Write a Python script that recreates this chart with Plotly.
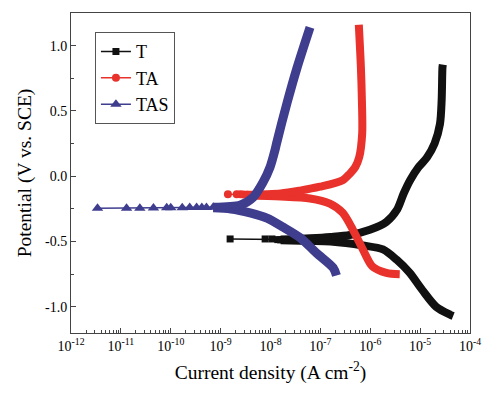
import plotly.graph_objects as go

# ---------------- data (current density in A cm^-2, potential in V vs SCE) -------------
# T (black squares)
t_cat_i = [4.6e-5, 4.0e-5, 2.1e-5, 1.1e-5, 6.2e-6, 3.4e-6, 1.8e-6, 7.1e-7, 1.6e-7, 6.3e-8, 1.6e-8]
t_cat_E = [-1.07, -1.06, -1.00, -0.87, -0.74, -0.64, -0.56, -0.53, -0.50, -0.495, -0.49]
t_an_i = [1.6e-8, 6.3e-8, 1.6e-7, 3.9e-7, 9.8e-7, 2.1e-6, 3.4e-6, 4.7e-6, 6.3e-6, 9.3e-6,
          1.38e-5, 1.95e-5, 2.5e-5, 2.7e-5, 2.8e-5, 2.85e-5]
t_an_E = [-0.485, -0.475, -0.465, -0.45, -0.41, -0.35, -0.26, -0.13, -0.03, 0.07,
          0.145, 0.25, 0.40, 0.58, 0.83, 0.855]
t_sp_i = [1.55e-9, 7.8e-9, 1.07e-8, 1.4e-8, 1.6e-8]
t_sp_E = [-0.48, -0.48, -0.48, -0.485, -0.487]

# TA (red circles)
ta_cat_i = [3.9e-6, 2.1e-6, 1.1e-6, 7.1e-7, 4.5e-7, 2.8e-7, 1.55e-7, 6.2e-8, 1.6e-8, 3.2e-9]
ta_cat_E = [-0.75, -0.74, -0.69, -0.56, -0.41, -0.28, -0.21, -0.17, -0.155, -0.148]
ta_an_i = [3.2e-9, 1.6e-8, 3.9e-8, 9.8e-8, 2.8e-7, 3.9e-7, 5.0e-7, 6.0e-7, 6.9e-7, 6.8e-7, 6.5e-7, 5.9e-7]
ta_an_E = [-0.142, -0.132, -0.11, -0.08, -0.03, 0.02, 0.07, 0.145, 0.33, 0.58, 0.83, 1.16]
ta_sp_i = [1.4e-9, 2.1e-9, 2.5e-9, 2.9e-9, 3.4e-9]
ta_sp_E = [-0.138, -0.138, -0.138, -0.14, -0.142]

# TAS (blue triangles)
tas_cat_i = [2.1e-7, 1.8e-7, 8.5e-8, 3.9e-8, 1.8e-8, 8.5e-9, 3.9e-9, 1.6e-9, 7.1e-10]
tas_cat_E = [-0.76, -0.70, -0.59, -0.47, -0.39, -0.32, -0.28, -0.25, -0.242]
tas_an_i = [7.1e-10, 2.5e-9, 4.5e-9, 7.0e-9, 9.8e-9, 1.23e-8, 1.32e-8, 2.14e-8, 3.4e-8, 6.2e-8]
tas_an_E = [-0.238, -0.22, -0.16, -0.05, 0.07, 0.20, 0.25, 0.56, 0.83, 1.14]
tas_sp_i = [3.4e-12, 1.3e-11, 2.4e-11, 4.5e-11, 8.3e-11, 1.0e-10, 1.7e-10, 2.4e-10,
            3.3e-10, 4.2e-10, 5.2e-10, 7.1e-10]
tas_sp_E = [-0.245, -0.244, -0.244, -0.243, -0.242, -0.242, -0.241, -0.240,
            -0.240, -0.239, -0.239, -0.238]

x_tickvals = [1e-12, 1e-11, 1e-10, 1e-9, 1e-8, 1e-7, 1e-6, 1e-5, 1e-4]
x_ticktext = ["10<sup>-12</sup>", "10<sup>-11</sup>", "10<sup>-10</sup>", "10<sup>-9</sup>",
              "10<sup>-8</sup>", "10<sup>-7</sup>", "10<sup>-6</sup>", "10<sup>-5</sup>",
              "10<sup>-4</sup>"]
y_tickvals = [-1.0, -0.5, 0.0, 0.5, 1.0]
y_ticktext = ["-1.0", "-0.5", "0.0", "0.5", "1.0"]

series = [
    ("T", "#111111", "square", 7, 8, (t_cat_i, t_cat_E), (t_an_i, t_an_E), (t_sp_i, t_sp_E)),
    ("TA", "#e8322b", "circle", 8, 8, (ta_cat_i, ta_cat_E), (ta_an_i, ta_an_E), (ta_sp_i, ta_sp_E)),
    ("TAS", "#3f3d8e", "triangle-up", 10, 9, (tas_cat_i, tas_cat_E), (tas_an_i, tas_an_E), (tas_sp_i, tas_sp_E)),
]

fig = go.Figure()
for name, col, sym, msize, lw, cat, an, sp in series:
    for xs, ys in (cat, an):
        fig.add_trace(go.Scatter(x=xs, y=ys, mode="lines", showlegend=False,
                                 line=dict(color=col, width=lw, shape="spline", smoothing=0.8),
                                 hoverinfo="skip"))
    fig.add_trace(go.Scatter(x=sp[0], y=sp[1], mode="lines+markers", name=name,
                             line=dict(color=col, width=1.5),
                             marker=dict(symbol=sym, size=msize, color=col)))

font_family = "'Liberation Serif', 'Times New Roman', Times, serif"
fig.update_layout(
    width=482, height=385,
    margin=dict(l=63, r=20, t=5, b=60),
    paper_bgcolor="white", plot_bgcolor="white",
    font=dict(family=font_family, color="black", size=14),
    legend=dict(x=0.06, y=0.94, xanchor="left", yanchor="top",
                bordercolor="#555555", borderwidth=1, bgcolor="white",
                font=dict(family=font_family, size=18, color="black"),
                tracegroupgap=0),
    xaxis=dict(type="log", range=[-12, -4], tickvals=x_tickvals, ticktext=x_ticktext,
               ticks="inside", ticklen=5, tickcolor="#444", showline=True, linecolor="#444",
               linewidth=1, mirror=True, showgrid=False, zeroline=False,
               minor=dict(ticks="inside", ticklen=3, tickcolor="#444",
                          tickvals=[m * 10.0 ** e for e in range(-12, -4) for m in range(2, 10)]),
               title=dict(text="Current density (A cm<sup>-2</sup>)", standoff=12,
                          font=dict(family=font_family, size=19.5)),
               tickfont=dict(family=font_family, size=14)),
    yaxis=dict(range=[-1.2, 1.25], tickvals=y_tickvals, ticktext=y_ticktext,
               ticks="inside", ticklen=5, tickcolor="#444", showline=True, linecolor="#444",
               linewidth=1, mirror=True, showgrid=False, zeroline=False,
               minor=dict(ticks="inside", ticklen=3, tickcolor="#444",
                          tickvals=[-0.75, -0.25, 0.25, 0.75]),
               title=dict(text="Potential (V vs. SCE)", standoff=8,
                          font=dict(family=font_family, size=19.5)),
               tickfont=dict(family=font_family, size=14)),
)

fig.write_html("out.html")
